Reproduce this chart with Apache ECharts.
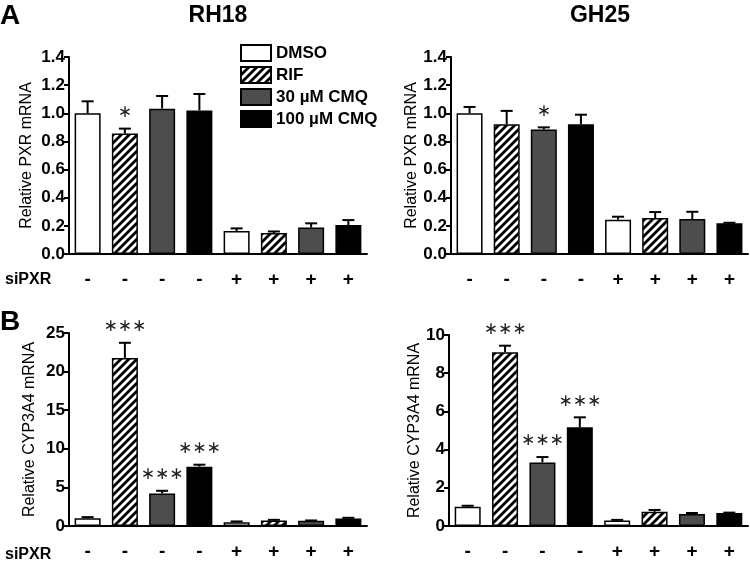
<!DOCTYPE html>
<html><head><meta charset="utf-8">
<script src="https://cdn.jsdelivr.net/npm/echarts@6/dist/echarts.min.js"></script>
<style>html,body{margin:0;padding:0;background:#fff}#c{width:750px;height:561px}</style>
</head><body><div id="c"></div>
<script>
// ---- data ----
const treatments = ['DMSO', 'RIF', '30 µM CMQ', '100 µM CMQ'];
const siPXR = ['-', '-', '-', '-', '+', '+', '+', '+'];
const cellLines = ['RH18', 'GH25'];
const panelLetters = ['A', 'B'];

const pxrRH18 = [1.00, 0.856, 1.033, 1.02, 0.163, 0.149, 0.189, 0.206];
const pxrRH18Err = [0.085, 0.035, 0.09, 0.117, 0.019, 0.011, 0.029, 0.035];
const pxrRH18Stars = ['', '*', '', '', '', '', '', ''];

const pxrGH25 = [1.00, 0.922, 0.884, 0.922, 0.244, 0.255, 0.248, 0.218];
const pxrGH25Err = [0.045, 0.095, 0.016, 0.068, 0.021, 0.043, 0.052, 0.004];
const pxrGH25Stars = ['', '', '*', '', '', '', '', ''];

const cypRH18 = [1.0, 21.75, 4.22, 7.69, 0.50, 0.72, 0.68, 0.97];
const cypRH18Err = [0.15, 1.98, 0.34, 0.25, 0.09, 0.08, 0.04, 0.09];
const cypRH18Stars = ['', '***', '***', '***', '', '', '', ''];

const cypGH25 = [1.01, 9.10, 3.33, 5.17, 0.29, 0.74, 0.63, 0.68];
const cypGH25Err = [0.05, 0.34, 0.28, 0.52, 0.03, 0.10, 0.05, 0.02];
const cypGH25Stars = ['', '***', '***', '***', '', '', '', ''];

const pxrTicks = { min: 0, max: 1.4, interval: 0.2 };
const cypRH18Ticks = { min: 0, max: 25, interval: 5 };
const cypGH25Ticks = { min: 0, max: 10, interval: 2 };

// ---- styling ----
const FONT = "'Liberation Sans', Arial, sans-serif";
function hatch() {
  const c = document.createElement('canvas');
  c.width = 8; c.height = 8;
  const g = c.getContext('2d');
  g.fillStyle = '#fff'; g.fillRect(0, 0, 8, 8);
  g.strokeStyle = '#000'; g.lineWidth = 2.8;
  g.beginPath();
  for (let k = -1; k <= 1; k++) { g.moveTo(k * 8 - 1, 9); g.lineTo(k * 8 + 9, -1); }
  g.stroke();
  return c;
}
const fills = ['#ffffff', { image: hatch(), repeat: 'repeat' }, '#4d4d4d', '#000000'];

const panels = [
  { vals: pxrRH18, err: pxrRH18Err, stars: pxrRH18Stars, ticks: pxrTicks, name: 'Relative PXR mRNA', dec: 1,
    grid: { left: 69, top: 57, width: 298, height: 197 }, nameGap: 34 },
  { vals: pxrGH25, err: pxrGH25Err, stars: pxrGH25Stars, ticks: pxrTicks, name: 'Relative PXR mRNA', dec: 1,
    grid: { left: 451, top: 57, width: 297, height: 197 }, nameGap: 31 },
  { vals: cypRH18, err: cypRH18Err, stars: cypRH18Stars, ticks: cypRH18Ticks, name: 'Relative CYP3A4 mRNA', dec: 0,
    grid: { left: 69, top: 333, width: 298, height: 197 }, nameGap: 31 },
  { vals: cypGH25, err: cypGH25Err, stars: cypGH25Stars, ticks: cypGH25Ticks, name: 'Relative CYP3A4 mRNA', dec: 0,
    grid: { left: 449, top: 335, width: 299, height: 197 }, nameGap: 26 }
];

const grids = [], xAxes = [], yAxes = [], series = [];
panels.forEach((p, g) => {
  grids.push(Object.assign({ containLabel: false }, p.grid));
  xAxes.push({
    type: 'category', gridIndex: g, data: siPXR.map((s, i) => String(i)),
    axisLine: { lineStyle: { color: '#000', width: 2 } },
    axisTick: { alignWithLabel: true, length: 5, lineStyle: { color: '#000', width: 2 } },
    axisLabel: { formatter: (v, i) => siPXR[i], color: '#000', fontFamily: FONT, fontWeight: 'bold', fontSize: 19, margin: 16 }
  });
  yAxes.push({
    type: 'value', gridIndex: g, min: p.ticks.min, max: p.ticks.max, interval: p.ticks.interval,
    name: p.name, nameLocation: 'middle', nameGap: p.nameGap,
    nameTextStyle: { fontFamily: FONT, fontSize: 16, color: '#000' },
    axisLine: { show: true, lineStyle: { color: '#000', width: 2 } },
    axisTick: { show: true, length: 5, lineStyle: { color: '#000', width: 2 } },
    splitLine: { show: false },
    axisLabel: { formatter: v => v.toFixed(p.dec), color: '#000', fontFamily: FONT, fontWeight: 'bold', fontSize: 17, margin: 4 }
  });
  treatments.forEach((t, k) => {
    series.push({
      type: 'bar', name: t, xAxisIndex: g, yAxisIndex: g, stack: 'p' + g, barWidth: 26,
      itemStyle: { color: fills[k], borderColor: '#000', borderWidth: 1.5 },
      data: p.vals.map((v, i) => (i % 4 === k ? v : null)), z: 2
    });
  });
  series.push({
    type: 'custom', xAxisIndex: g, yAxisIndex: g, z: 3,
    data: p.vals.map((v, i) => [i, v, p.err[i]]),
    renderItem: (params, api) => {
      const i = api.value(0), v = api.value(1), e = api.value(2);
      const p0 = api.coord([i, v]), p1 = api.coord([i, v + e]);
      const ch = [
        { type: 'line', shape: { x1: p0[0], y1: p0[1], x2: p1[0], y2: p1[1] }, style: { stroke: '#000', lineWidth: 2 } },
        { type: 'line', shape: { x1: p1[0] - 6, y1: p1[1], x2: p1[0] + 6, y2: p1[1] }, style: { stroke: '#000', lineWidth: 2 } }
      ];
      const s = p.stars[i];
      if (s) {
        ch.push({ type: 'text', x: p1[0], y: p1[1] - 16,
          style: { text: s.split('').map(() => '∗').join(''), fill: '#222', font: '17px DejaVu Sans', align: 'center', verticalAlign: 'middle' } });
      }
      return { type: 'group', children: ch };
    }
  });
});

const chart = echarts.init(document.getElementById('c'), null, { renderer: 'canvas' });
chart.setOption({
  animation: false,
  backgroundColor: '#fff',
  grid: grids, xAxis: xAxes, yAxis: yAxes, series: series,
  legend: {
    data: treatments, orient: 'vertical', left: 235, top: 39, icon: 'rect',
    itemWidth: 30, itemHeight: 16, itemGap: 4,
    textStyle: { fontFamily: FONT, fontWeight: 'bold', fontSize: 17, color: '#000' },
    itemStyle: { borderColor: '#000', borderWidth: 2 }
  },
  graphic: [
    { type: 'text', left: 0, top: 2, style: { text: panelLetters[0], font: 'bold 28px ' + FONT, fill: '#000' } },
    { type: 'text', left: 0, top: 308, style: { text: panelLetters[1], font: 'bold 28px ' + FONT, fill: '#000' } },
    { type: 'text', x: 218, y: 16, style: { text: cellLines[0], font: 'bold 23px ' + FONT, fill: '#000', align: 'center', verticalAlign: 'middle' } },
    { type: 'text', x: 600, y: 16, style: { text: cellLines[1], font: 'bold 23px ' + FONT, fill: '#000', align: 'center', verticalAlign: 'middle' } },
    { type: 'text', x: 5, y: 280, style: { text: 'siPXR', font: 'bold 16px ' + FONT, fill: '#000', verticalAlign: 'middle' } },
    { type: 'text', x: 5, y: 555, style: { text: 'siPXR', font: 'bold 16px ' + FONT, fill: '#000', verticalAlign: 'middle' } }
  ]
});
</script></body></html>
